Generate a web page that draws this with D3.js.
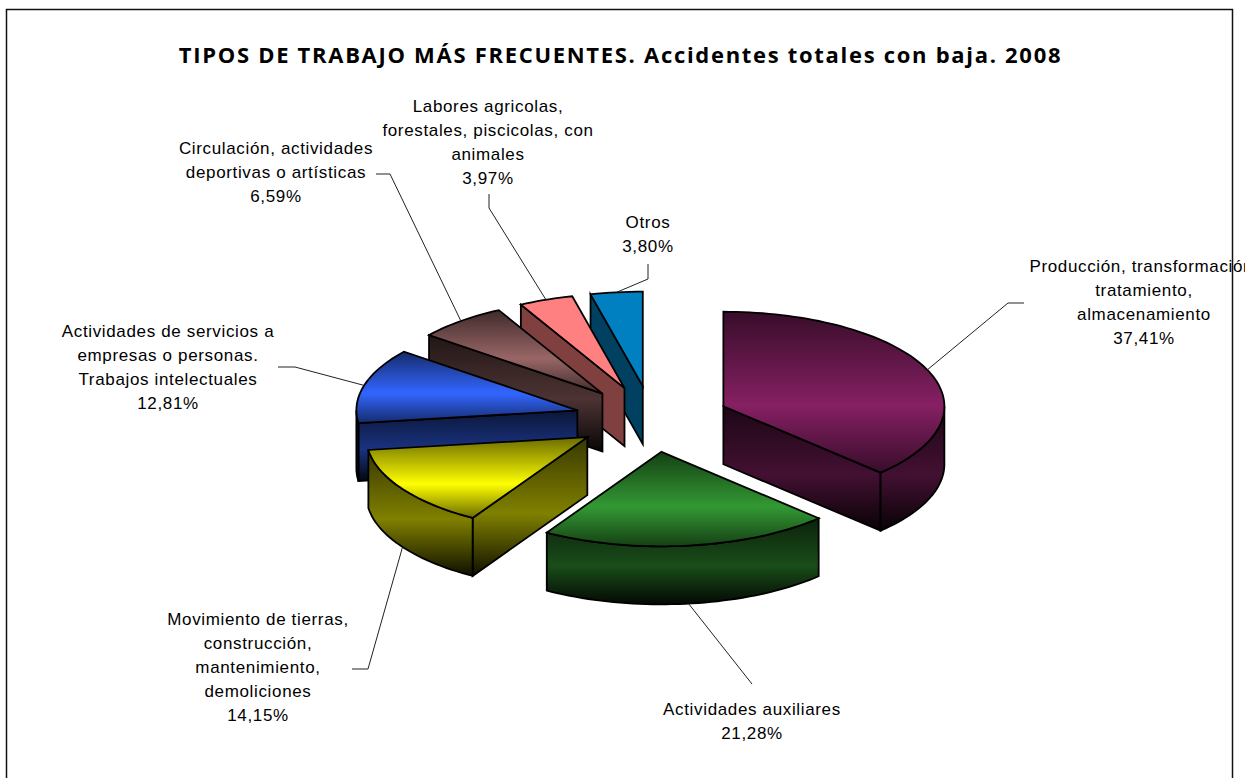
<!DOCTYPE html>
<html>
<head>
<meta charset="utf-8">
<script src="https://d3js.org/d3.v7.min.js"></script>
<style>
  html, body { margin: 0; padding: 0; background: #fff; overflow: hidden; }
  svg { display: block; }
</style>
</head>
<body>
<script>
const categories = [
  'Producción, transformación, tratamiento, almacenamiento',
  'Actividades auxiliares',
  'Movimiento de tierras, construcción, mantenimiento, demoliciones',
  'Actividades de servicios a empresas o personas. Trabajos intelectuales',
  'Circulación, actividades deportivas o artísticas',
  'Labores agricolas, forestales, piscicolas, con animales',
  'Otros'
];
const values = [37.41, 21.28, 14.15, 12.81, 6.59, 3.97, 3.80];
const colors = ['#862063', '#339933', '#ffff00', '#3366ff', '#996666', '#ff8080', '#0080c0'];
const labelLines = [
  ['Producción, transformación,', 'tratamiento,', 'almacenamiento'],
  ['Actividades auxiliares'],
  ['Movimiento de tierras,', 'construcción,', 'mantenimiento,', 'demoliciones'],
  ['Actividades de servicios a', 'empresas o personas.', 'Trabajos intelectuales'],
  ['Circulación, actividades', 'deportivas o artísticas'],
  ['Labores agricolas,', 'forestales, piscicolas, con', 'animales'],
  ['Otros']
];
const titleText = 'TIPOS DE TRABAJO MÁS FRECUENTES. Accidentes totales con baja. 2008';

const width = 1255;
const height = 778;
const cx = 652;
const cy = 419;
const rx = 221;
const ry = 94.5;
const depth = 58;
const explode = 0.35;
const flatSlices = ['Otros', categories[5]];

// label centre x, first line y, and the two leader bend points
const labelLayout = [
  { x: 1144, y: 272, bend: [1008, 303], end: [1024, 303] },
  { x: 752, y: 715, bend: [752, 684], end: [752, 684] },
  { x: 258, y: 625, bend: [368, 669], end: [352, 669] },
  { x: 168, y: 337, bend: [295, 367], end: [278, 367] },
  { x: 276, y: 154, bend: [390, 174], end: [376, 174] },
  { x: 488, y: 112, bend: [489, 208], end: [489, 194] },
  { x: 648, y: 228, bend: [648, 279], end: [648, 264] }
];

const comma = d3.formatLocale({ decimal: ',', thousands: '.', grouping: [3], currency: ['', ''] }).format('.2f');

const svg = d3.select('body')
  .append('svg')
  .attr('width', width)
  .attr('height', height);

const defs = svg.append('defs');

defs.append('clipPath')
  .attr('id', 'labelClip')
  .append('rect')
  .attr('x', 0)
  .attr('y', 0)
  .attr('width', 1245)
  .attr('height', height);

// frame
svg.append('rect')
  .attr('x', 6.5)
  .attr('y', 9.5)
  .attr('width', 1226)
  .attr('height', 790)
  .attr('fill', '#fff')
  .attr('stroke', '#111')
  .attr('stroke-width', 1.5);

svg.append('text')
  .attr('x', 620.5)
  .attr('y', 63)
  .attr('text-anchor', 'middle')
  .attr('font-family', '"Open Sans", sans-serif')
  .attr('font-weight', 'bold')
  .attr('font-size', '22px')
  .attr('letter-spacing', '1.7px')
  .attr('fill', '#000')
  .text(titleText);

// unit circle to screen
const xScale = d3.scaleLinear().domain([-1, 1]).range([cx - rx, cx + rx]);
const yScale = d3.scaleLinear().domain([-1, 1]).range([cy + ry, cy - ry]);

const pie = d3.pie().sort(null);
const slices = pie(values).map(function (d, i) {
  const mid = (d.startAngle + d.endAngle) / 2;
  return {
    i: i,
    name: categories[i],
    start: d.startAngle,
    end: d.endAngle,
    mid: mid,
    ox: explode * Math.sin(mid),
    oy: explode * Math.cos(mid)
  };
});

function rimPoint(s, a, drop) {
  return [
    xScale(s.ox + Math.sin(a)),
    yScale(s.oy + Math.cos(a)) + drop
  ];
}
function apex(s, drop) {
  return [xScale(s.ox), yScale(s.oy) + drop];
}
function arcPoints(s, a0, a1, drop) {
  const n = Math.max(2, Math.ceil((a1 - a0) / 0.03));
  return d3.range(n + 1).map(function (k) {
    return rimPoint(s, a0 + (a1 - a0) * k / n, drop);
  });
}

const line = d3.line().curve(d3.curveLinear);

function gradient(id, color, topEdge, bottomEdge, midAt) {
  const g = defs.append('linearGradient')
    .attr('id', id)
    .attr('x1', 0).attr('y1', 0)
    .attr('x2', 0).attr('y2', 1);
  g.append('stop').attr('offset', 0).attr('stop-color', topEdge);
  g.append('stop').attr('offset', midAt).attr('stop-color', color);
  g.append('stop').attr('offset', 1).attr('stop-color', bottomEdge);
  return 'url(#' + id + ')';
}

function darker(c, k) {
  const rgb = d3.rgb(c);
  return d3.rgb(rgb.r * k, rgb.g * k, rgb.b * k).formatHex();
}

const order = slices.slice().sort(function (a, b) {
  return d3.descending(Math.cos(a.mid), Math.cos(b.mid));
});

const faces = svg.append('g')
  .attr('stroke', '#000')
  .attr('stroke-width', 1.8)
  .attr('stroke-linejoin', 'miter');

order.forEach(function (s) {
  const base = colors[s.i];
  const isFlat = flatSlices.includes(s.name);
  const wall = darker(base, 0.5);
  const topFill = isFlat ? base : gradient('top' + s.i, base, darker(base, 0.42), darker(base, 0.42), 0.58);
  const wallFill = isFlat ? wall : gradient('wall' + s.i, wall, darker(base, 0.22), darker(base, 0.06), 0.55);
  const g = faces.append('g');

  function radialWall(a) {
    const pts = [apex(s, 0), rimPoint(s, a, 0), rimPoint(s, a, depth), apex(s, depth)];
    g.append('path').attr('d', line(pts) + 'Z').attr('fill', wallFill);
  }
  if (Math.sin(s.start) < -1e-6) radialWall(s.start);
  if (Math.sin(s.end) > 1e-6) radialWall(s.end);

  // the part of the rim that faces the viewer runs between 90 and 270 degrees
  const a0 = Math.max(s.start, Math.PI / 2);
  const a1 = Math.min(s.end, Math.PI * 1.5);
  if (a1 > a0) {
    const upper = arcPoints(s, a0, a1, 0);
    const lower = arcPoints(s, a0, a1, depth).reverse();
    g.append('path').attr('d', line(upper.concat(lower)) + 'Z').attr('fill', wallFill);
  }

  const top = [apex(s, 0)].concat(arcPoints(s, s.start, s.end, 0));
  g.append('path').attr('d', line(top) + 'Z').attr('fill', topFill);
});

// leaders and labels
const leaders = svg.append('g')
  .attr('fill', 'none')
  .attr('stroke', '#222')
  .attr('stroke-width', 1);

const labels = svg.append('g')
  .attr('clip-path', 'url(#labelClip)')
  .attr('font-family', '"Liberation Sans", Arial, sans-serif')
  .attr('font-size', '17px')
  .attr('letter-spacing', '0.65px')
  .attr('fill', '#000')
  .attr('text-anchor', 'middle');

slices.forEach(function (s) {
  const front = Math.cos(s.mid) < 0;
  const start = rimPoint(s, s.mid, front ? depth : 0);
  const l = labelLayout[s.i];
  leaders.append('path').attr('d', line([start, l.bend, l.end]));

  const text = labels.append('text').attr('x', l.x).attr('y', l.y);
  labelLines[s.i].concat([comma(values[s.i]) + '%']).forEach(function (t, k) {
    text.append('tspan')
      .attr('x', l.x)
      .attr('dy', k === 0 ? 0 : 24)
      .text(t);
  });
});
</script>
</body>
</html>
